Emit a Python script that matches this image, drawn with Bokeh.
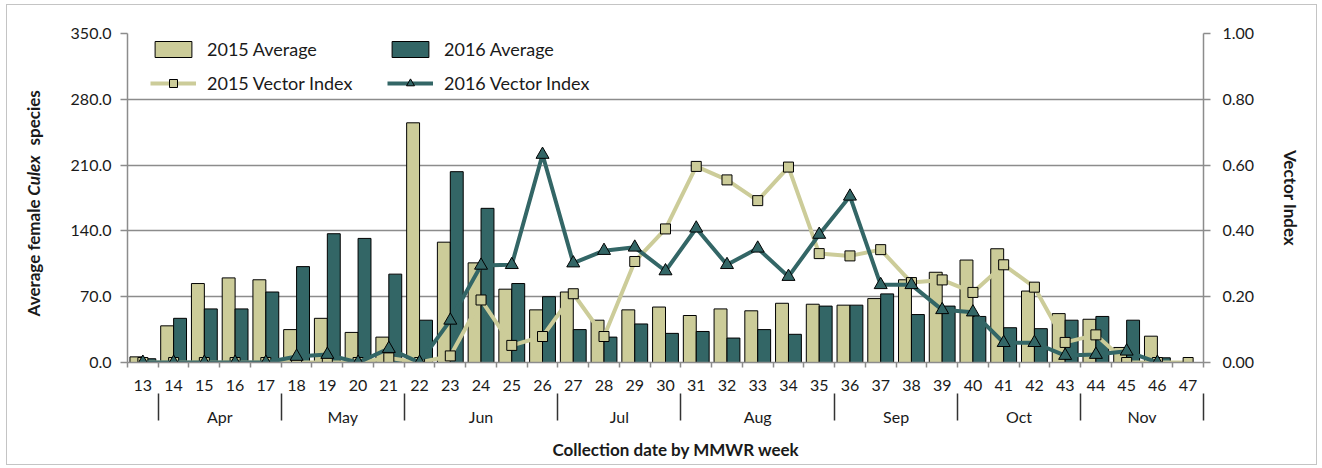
from bokeh.plotting import figure
from bokeh.layouts import row
from bokeh.models import (Range1d, LinearAxis, FixedTicker, PrintfTickFormatter,
                          Legend, LegendItem, ColumnDataSource, Title, InlineStyleSheet)
from bokeh.core.properties import value
from bokeh.transform import dodge
from bokeh.embed import file_html
from bokeh.resources import INLINE
import math

# ---------------- data ----------------
weeks = list(range(13, 48))
avg_2015 = [6, 39, 84, 90, 88, 35, 47, 32, 27, 255, 128, 106, 78, 56, 75, 45, 56, 59,
            50, 57, 55, 63, 62, 61, 68, 88, 96, 109, 121, 76, 52, 46, 16, 28, 0]
avg_2016 = [4, 47, 57, 57, 75, 102, 137, 132, 94, 45, 203, 164, 84, 70, 35, 27, 41, 31,
            33, 26, 35, 30, 60, 61, 73, 51, 60, 49, 37, 36, 45, 49, 45, 5, 0]
vi_2015 = [0, 0, 0, 0, 0, 0, 0, 0, 0.014, 0, 0.02, 0.19, 0.052, 0.079, 0.209, 0.079,
           0.307, 0.406, 0.596, 0.555, 0.492, 0.594, 0.331, 0.324, 0.343, 0.243, 0.251,
           0.213, 0.297, 0.229, 0.061, 0.084, 0, 0, 0]
vi_2016 = [0, 0, 0, 0, 0, 0.018, 0.024, 0, 0.042, 0, 0.128, 0.295, 0.297, 0.632, 0.302,
           0.34, 0.35, 0.278, 0.408, 0.297, 0.347, 0.261, 0.389, 0.505, 0.236, 0.236,
           0.16, 0.153, 0.06, 0.06, 0.021, 0.024, 0.034, 0, float("nan")]
months = ["Apr", "May", "Jun", "Jul", "Aug", "Sep", "Oct", "Nov"]
month_first_week = [14, 18, 22, 27, 31, 36, 40, 44]
month_last_week = [17, 21, 26, 30, 35, 39, 43, 47]
left_ticks = [0, 70, 140, 210, 280, 350]
right_ticks = [0, 0.2, 0.4, 0.6, 0.8, 1.0]
series_labels = ["2015 Average", "2016 Average", "2015 Vector Index", "2016 Vector Index"]
y_title_parts = ["Average female", "Culex", "species"]
x_title = "Collection date by MMWR week"
y2_title = "Vector Index"

C15 = "#CCCC99"
C16 = "#336666"
GRAY = "#8c8c8c"
TXT = "#1a1a1a"
FONT = "Lato"
TICK_FS = "16px"
TITLE_FS = "17px"

W, H = 1322, 468
TW = 60  # width of the left-title strip

src = ColumnDataSource(dict(week=weeks, a15=avg_2015, a16=avg_2016, v15=vi_2015, v16=vi_2016))

p = figure(width=W - TW, height=H, x_range=Range1d(12.5, 47.5), y_range=Range1d(0, 350),
           output_backend="svg", toolbar_location=None,
           min_border_left=127 - TW, min_border_right=119, min_border_top=33, min_border_bottom=106)
p.extra_y_ranges = {"vi": Range1d(0, 1)}
p.outline_line_color = None

b15 = p.vbar(x=dodge("week", -0.21), top="a15", width=0.42, source=src,
             fill_color=C15, line_color="black", line_width=1)
b16 = p.vbar(x=dodge("week", 0.21), top="a16", width=0.42, source=src,
             fill_color=C16, line_color="black", line_width=1)
l15 = p.line("week", "v15", source=src, y_range_name="vi", line_color=C15, line_width=4)
m15 = p.scatter("week", "v15", source=src, y_range_name="vi", marker="square", size=10,
                fill_color=C15, line_color="black", line_width=1)
l16 = p.line("week", "v16", source=src, y_range_name="vi", line_color=C16, line_width=4)
m16 = p.scatter("week", "v16", source=src, y_range_name="vi", marker="triangle", size=13,
                fill_color=C16, line_color="black", line_width=1)

# grid
p.xgrid.visible = False
p.ygrid[0].ticker = FixedTicker(ticks=left_ticks)
p.ygrid[0].grid_line_color = GRAY
p.ygrid[0].grid_line_width = 1.5

def style_axis(ax):
    ax.axis_line_color = GRAY
    ax.axis_line_width = 1.5
    ax.major_tick_line_color = GRAY
    ax.major_tick_line_width = 1.5
    ax.major_label_text_font = FONT
    ax.major_label_text_font_size = TICK_FS
    ax.major_label_text_color = TXT
    ax.axis_label_text_font = FONT
    ax.axis_label_text_font_size = TITLE_FS
    ax.axis_label_text_font_style = "bold"
    ax.axis_label_text_color = TXT

# x axis: week numbers, ticks at category boundaries
xa = p.xaxis[0]
style_axis(xa)
xa.ticker = FixedTicker(ticks=weeks, minor_ticks=[w - 0.5 for w in weeks] + [weeks[-1] + 0.5])
xa.major_tick_line_color = None
xa.minor_tick_line_color = GRAY
xa.minor_tick_line_width = 1.5
xa.minor_tick_out = 5
xa.minor_tick_in = 0
xa.major_tick_out = 0
xa.major_label_standoff = 12

# month axis
centers = [(a + b) / 2 for a, b in zip(month_first_week, month_last_week)]
bounds = [month_first_week[0] - 0.5] + [b + 0.5 for b in month_last_week]
ma = LinearAxis(ticker=FixedTicker(ticks=centers, minor_ticks=bounds),
                major_label_overrides={c: m for c, m in zip(centers, months)})
style_axis(ma)
ma.axis_line_color = None
ma.major_tick_line_color = None
ma.major_tick_out = 0
ma.minor_tick_line_color = "#333333"
ma.minor_tick_line_width = 1.5
ma.minor_tick_out = 27
ma.minor_tick_in = 0
ma.major_label_standoff = -14
p.add_layout(ma, "below")

# x title
p.add_layout(Title(text=x_title, align="left", offset=425, standoff=17,
                   text_font=FONT, text_font_size=TITLE_FS, text_font_style="bold",
                   text_color=TXT), "below")

# left axis
ya = p.yaxis[0]
style_axis(ya)
ya.ticker = FixedTicker(ticks=left_ticks)
ya.formatter = PrintfTickFormatter(format="%.1f")
ya.minor_tick_line_color = None
ya.major_tick_out = 7
ya.major_tick_in = 0
ya.major_label_standoff = 9

# right axis
ra = LinearAxis(y_range_name="vi", ticker=FixedTicker(ticks=right_ticks),
                formatter=PrintfTickFormatter(format="%.2f"), axis_label=y2_title)
style_axis(ra)
ra.minor_tick_line_color = None
ra.major_tick_out = 7
ra.major_tick_in = 0
ra.major_label_standoff = 12
ra.axis_label_standoff = 23
p.add_layout(ra, "right")

legend = Legend(items=[LegendItem(label=series_labels[0], renderers=[b15]),
                       LegendItem(label=series_labels[1], renderers=[b16]),
                       LegendItem(label=series_labels[2], renderers=[l15, m15]),
                       LegendItem(label=series_labels[3], renderers=[l16, m16])],
                location=(23, 268), orientation="horizontal", nrows=2,
                margin=0, padding=0, spacing=12, glyph_width=46, glyph_height=20,
                label_height=20, label_width=168, label_standoff=11,
                label_text_font=FONT, label_text_font_size="18px", label_text_color=TXT,
                border_line_color=None, background_fill_alpha=0)
p.add_layout(legend)

# left title strip (mixed bold / bold-italic text); its frame aligns with the main frame,
# so it shares the left-axis y range
t = figure(width=TW, height=H, x_range=Range1d(0, TW), y_range=p.y_range,
           output_backend="svg", toolbar_location=None, min_border=0,
           x_axis_type=None, y_axis_type=None)
t.outline_line_color = None
t.grid.visible = False
tx = 33
for txt, ty, align, style in [(y_title_parts[0], 173.4, "right", "bold"),
                              (y_title_parts[1], 198.9, "center", "bold italic"),
                              (y_title_parts[2], 230.9, "left", "bold")]:
    t.text(x=[tx], y=[ty], text=[txt], angle=math.pi / 2, text_align=align,
           text_baseline="middle", text_font=value(FONT), text_font_size=TITLE_FS,
           text_font_style=style, text_color=TXT)

frame_css = InlineStyleSheet(css=""":host { position: relative; }
:host::after { content: ""; position: absolute; left: 6px; top: 4px; width: 1311px;
  height: 461px; border: 1px solid #c4c4c4; pointer-events: none; box-sizing: border-box; }""")
layout = row(t, p, spacing=0, stylesheets=[frame_css])
open("out.html", "w").write(file_html(layout, INLINE))
